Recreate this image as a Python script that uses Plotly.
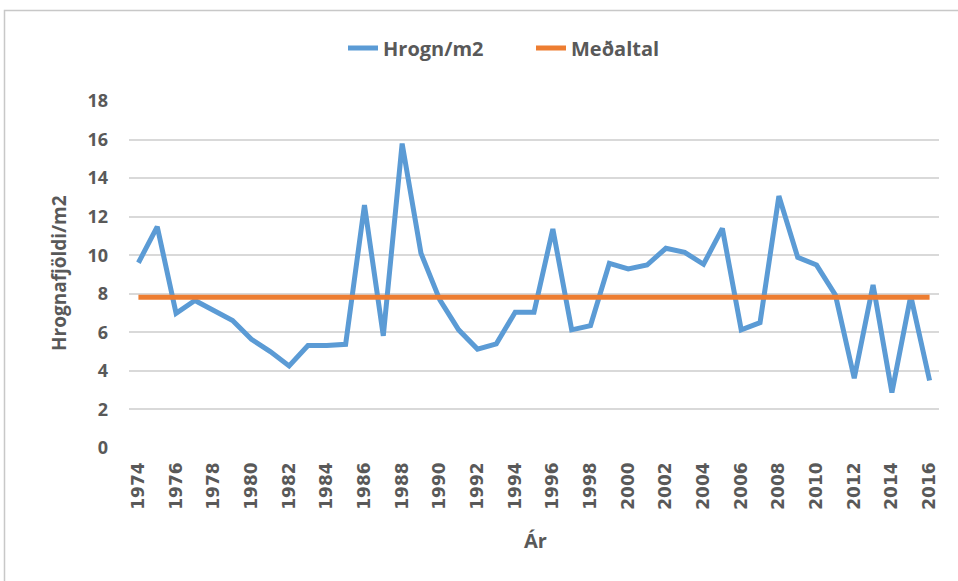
import plotly.graph_objects as go

years = list(range(1974, 2017))
hrogn = [9.61, 11.48, 6.99, 7.65, 7.13, 6.61, 5.64, 5.00, 4.26, 5.32,
         5.32, 5.38, 12.60, 5.82, 15.79, 10.10, 7.68, 6.13, 5.13, 5.40,
         7.04, 7.04, 11.36, 6.13, 6.35, 9.58, 9.29, 9.49, 10.36, 10.15,
         9.53, 11.39, 6.13, 6.50, 13.07, 9.89, 9.49, 7.94, 3.62, 8.46,
         2.88, 7.89, 3.50]
medaltal = [7.82] * len(years)
tick_years = list(range(1974, 2017, 2))

GRAY = "#595959"
BLUE = "#5B9BD5"
ORANGE = "#ED7D31"

fig = go.Figure()
fig.add_trace(go.Scatter(x=years, y=hrogn, mode="lines", name="Hrogn/m2",
                         line=dict(color=BLUE, width=5)))
fig.add_trace(go.Scatter(x=years, y=medaltal, mode="lines", name="Meðaltal",
                         line=dict(color=ORANGE, width=5)))

W, H = 958, 581
L, R, T, B = 129, 19, 101, 133
pw, ph = W - L - R, H - T - B

def px(x):
    return (x - L) / pw

def py(y):
    return (H - B - y) / ph

fig.update_layout(
    width=W, height=H,
    margin=dict(l=L, r=R, t=T, b=B),
    paper_bgcolor="white", plot_bgcolor="white",
    font=dict(family="Open Sans", color=GRAY, size=17),
    showlegend=True,
    legend=dict(orientation="h", x=px(343), xanchor="left", y=py(48), yanchor="middle",
                font=dict(family="Open Sans", size=20, color=GRAY, weight="bold"),
                entrywidth=143, entrywidthmode="pixels",
                bgcolor="rgba(0,0,0,0)"),
    xaxis=dict(range=[1973.5, 2016.5], tickvals=tick_years, ticktext=[str(t) for t in tick_years],
               tickangle=-90, showgrid=False, zeroline=False, showline=False, ticks="",
               tickfont=dict(family="DejaVu Sans", size=17, color=GRAY, weight="bold"),
               ticklabelstandoff=10),
    yaxis=dict(range=[0, 18], dtick=2, showgrid=True, gridcolor="#d9d9d9", gridwidth=2,
               zeroline=False, showline=False, ticks="",
               tickfont=dict(family="Open Sans", size=18, color=GRAY, weight="bold"),
               ticklabelstandoff=20),
    annotations=[
        dict(text="Hrognafjöldi/m2", x=px(59), y=py(273), xref="paper", yref="paper",
             textangle=-90, showarrow=False, xanchor="center", yanchor="middle",
             font=dict(family="Open Sans", size=19, color=GRAY, weight="bold")),
        dict(text="Ár", x=px(535), y=py(540), xref="paper", yref="paper",
             showarrow=False, xanchor="center", yanchor="middle",
             font=dict(family="Open Sans", size=20, color=GRAY, weight="bold")),
    ],
    shapes=[
        dict(type="rect", xref="paper", yref="paper", x0=px(4.5), x1=px(990), y0=py(600), y1=py(10.5),
             line=dict(color="#c8c8c8", width=1.5), fillcolor="rgba(0,0,0,0)", layer="below"),
    ],
)

fig.write_html("out.html", config={"displayModeBar": False},
               post_script="document.body.style.margin='0';document.body.style.overflow='hidden';")
